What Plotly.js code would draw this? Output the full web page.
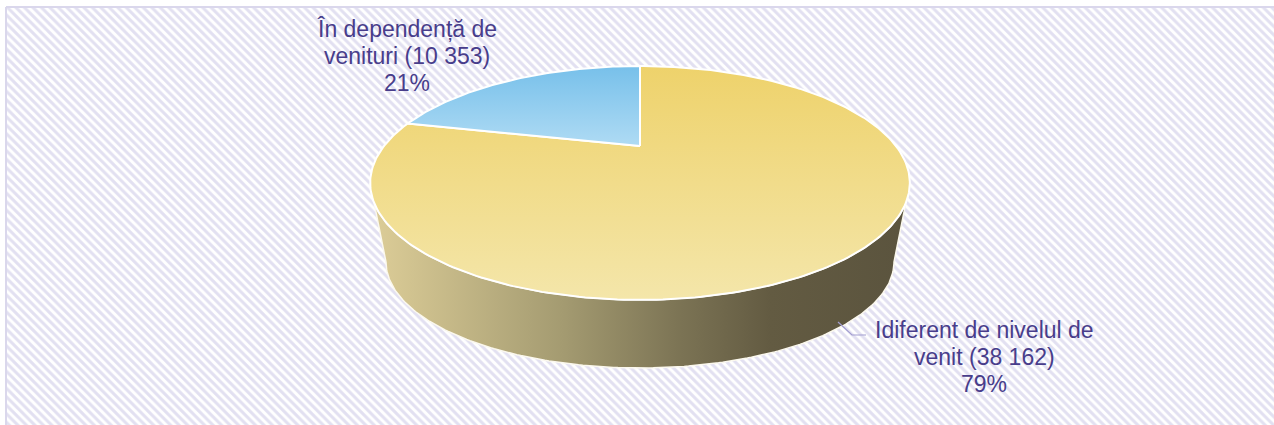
<!DOCTYPE html>
<html>
<head>
<meta charset="utf-8">
<script src="https://cdn.plot.ly/plotly-3.0.1.min.js"></script>
<style>html,body{margin:0;padding:0;background:#fff;}#chart{width:1274px;height:425px;}</style>
</head>
<body>
<div id="chart"></div>
<script>
// ---- data ----
const labelLine1 = ['Idiferent de nivelul de', 'În dependență de'];
const labelLine2 = ['venit', 'venituri'];
const values = [38162, 10353];
const topColors = [['#eed26b', '#f4e6aa'], ['#77c0ea', '#afdbf4']];

// ---- geometry (layout) ----
const W = 1274, H = 425;
const CX = 640, CY0 = 146, SX = 256, PC = 0.316, PA = -59.1;   // top face projection
const BCY = 262, BRX = 254, BRY = 106;                         // bottom rim ellipse
function proj(u, v) { const d = 1 + PC * v; return [CX + SX * u / d, (PA * v + CY0) / d]; }
function ptAt(deg) { const t = deg * Math.PI / 180; return proj(Math.sin(t), Math.cos(t)); }

const total = values.reduce((s, v) => s + v, 0);
const fmt = n => String(n).replace(/\B(?=(\d{3})+(?!\d))/g, ' ');
const traces = [];

// background hatched panel
traces.push({
  type: 'scatter', mode: 'lines', x: [6, 1400, 1400, 6, 6], y: [7, 7, 500, 500, 7],
  fill: 'toself', fillcolor: '#ffffff',
  fillpattern: { shape: '\\', fgcolor: '#e2e0f1', bgcolor: '#ffffff', size: 6, solidity: 0.5 },
  line: { color: '#dad7ec', width: 2 }, hoverinfo: 'skip', showlegend: false
});

// side wall (front, visible part of first slice)
const lAng = 180 + Math.acos(PC) * 180 / Math.PI;   // leftmost
const rAng = 180 - Math.acos(PC) * 180 / Math.PI;   // rightmost
const wx = [], wy = [];
for (let a = rAng; a <= lAng + 1e-9; a += 1) { const p = ptAt(a); wx.push(p[0]); wy.push(p[1]); }
for (let k = 0; k <= 180; k++) {
  const phi = Math.PI - k * Math.PI / 180;  // left -> right along lower half
  wx.push(CX + BRX * Math.cos(phi)); wy.push(BCY + BRY * Math.sin(phi));
}
wx.push(wx[0]); wy.push(wy[0]);
traces.push({
  type: 'scatter', mode: 'lines', x: wx, y: wy, fill: 'toself', fillcolor: '#9d946b',
  fillgradient: { type: 'horizontal', start: 380, stop: 900,
    colorscale: [[0, '#dacb96'], [0.35, '#a49b71'], [0.58, '#7b7354'], [0.75, '#635b42'], [1, '#5b543e']] },
  line: { color: '#fbf8ee', width: 1.5 }, hoverinfo: 'skip', showlegend: false
});

// top face slices
let start = 0;
values.forEach((v, i) => {
  const sweep = v / total * 360;
  const xs = [CX], ys = [CY0];
  const n = Math.max(2, Math.ceil(sweep));
  for (let k = 0; k <= n; k++) { const p = ptAt(start + sweep * k / n); xs.push(p[0]); ys.push(p[1]); }
  xs.push(CX); ys.push(CY0);
  const yMin = Math.min(...ys), yMax = Math.max(...ys);
  traces.push({
    type: 'scatter', mode: 'lines', x: xs, y: ys, fill: 'toself', fillcolor: topColors[i][0],
    fillgradient: { type: 'vertical', start: yMin, stop: yMax,
      colorscale: [[0, topColors[i][0]], [1, topColors[i][1]]] },
    line: { color: '#ffffff', width: 2 }, hoverinfo: 'skip', showlegend: false
  });
  start += sweep;
});

// labels (one annotation per text line, 27px apart)
const labelPos = [[984, 357], [407, 56]];
const LS = 27;
const annotations = [];
values.forEach((v, i) => {
  const lines = [labelLine1[i], labelLine2[i] + ' (' + fmt(v) + ')', Math.round(v / total * 100) + '%'];
  lines.forEach((t, j) => annotations.push({
    x: labelPos[i][0], y: labelPos[i][1] + (j - 1) * LS, xref: 'x', yref: 'y', showarrow: false,
    text: t, align: 'center', xanchor: 'center', yanchor: 'middle',
    font: { family: 'Liberation Sans, Arial, sans-serif', size: 23, color: '#483d8b' }
  }));
});

const layout = {
  width: W, height: H, margin: { l: 0, r: 0, t: 0, b: 0 },
  paper_bgcolor: '#ffffff', plot_bgcolor: '#ffffff', showlegend: false,
  xaxis: { range: [0, W], visible: false, fixedrange: true },
  yaxis: { range: [H, 0], visible: false, fixedrange: true },
  annotations: annotations,
  shapes: [{ type: 'path', xref: 'x', yref: 'y', path: 'M 838 322 L 852 335 L 866 335',
    line: { color: '#a29dd0', width: 1.2 } }]
};
Plotly.newPlot('chart', traces, layout, { displayModeBar: false, staticPlot: true });
</script>
</body>
</html>
